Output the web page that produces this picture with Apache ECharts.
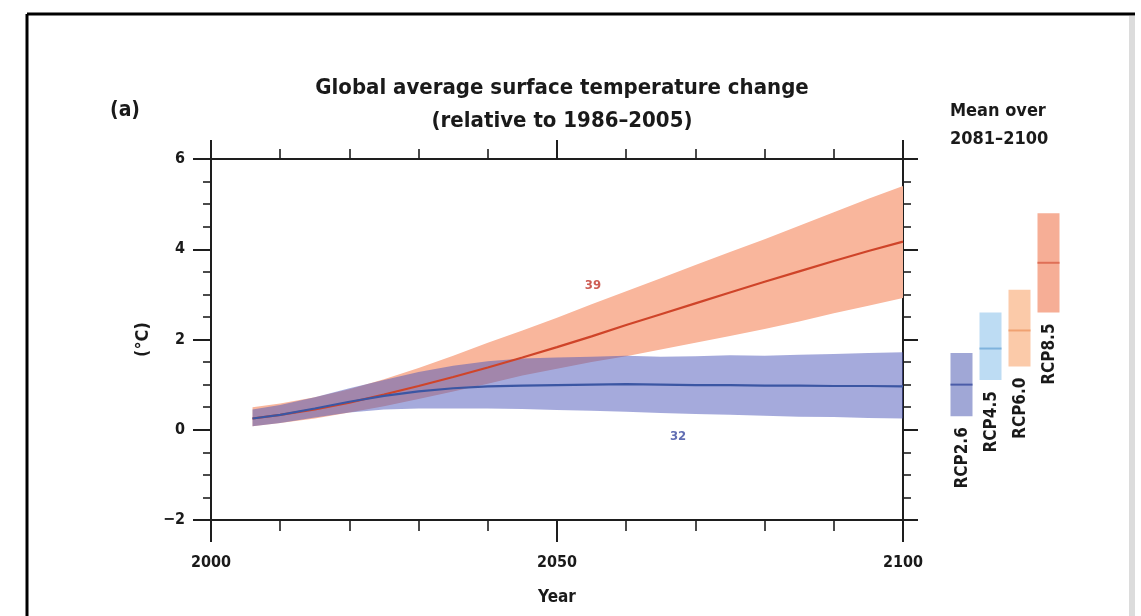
<!DOCTYPE html>
<html><head><meta charset="utf-8">
<script src="https://cdn.jsdelivr.net/npm/echarts@6/dist/echarts.min.js"></script>
<style>html,body{margin:0;padding:0;background:#fff}#c{width:1141px;height:616px}</style>
</head><body><div id="c"></div>
<script>
// ---- data ----
const years      = [2006,2010,2015,2020,2025,2030,2035,2040,2045,2050,2055,2060,2065,2070,2075,2080,2085,2090,2095,2100];
const rcp85Mean  = [0.25,0.33,0.45,0.60,0.78,0.97,1.17,1.38,1.60,1.83,2.07,2.32,2.56,2.80,3.04,3.28,3.51,3.74,3.96,4.17];
const rcp85Upper = [0.50,0.58,0.72,0.90,1.12,1.37,1.64,1.93,2.20,2.48,2.78,3.07,3.36,3.65,3.94,4.22,4.52,4.82,5.12,5.40];
const rcp85Lower = [0.08,0.15,0.25,0.38,0.52,0.68,0.85,1.02,1.20,1.35,1.50,1.63,1.78,1.93,2.08,2.23,2.40,2.58,2.75,2.92];
const rcp26Mean  = [0.25,0.33,0.47,0.62,0.75,0.85,0.92,0.96,0.98,0.99,1.00,1.01,1.00,0.99,0.99,0.98,0.98,0.97,0.97,0.96];
const rcp26Upper = [0.45,0.55,0.72,0.92,1.10,1.28,1.42,1.52,1.58,1.60,1.62,1.64,1.62,1.63,1.65,1.64,1.66,1.68,1.70,1.72];
const rcp26Lower = [0.08,0.15,0.27,0.38,0.45,0.47,0.47,0.47,0.46,0.44,0.42,0.40,0.37,0.35,0.33,0.31,0.29,0.28,0.26,0.25];

const barNames = ['RCP2.6','RCP4.5','RCP6.0','RCP8.5'];
const barLow   = [0.3,1.1,1.4,2.6];
const barMean  = [1.0,1.8,2.2,3.7];
const barHigh  = [1.7,2.6,3.1,4.8];

const countLabels = ['39','32'];
const countYears  = [2055.2,2067.5];
const countValues = [3.19,-0.16];

const xMin = 2000, xMax = 2100, xStep = 50;
const yMin = -2, yMax = 6, yStep = 2;

// ---- styles ----
const FONT = '"DejaVu Sans Condensed","Liberation Sans Narrow","DejaVu Sans",sans-serif';
const AX = '#1e1e1e';
const TXT = '#1a1a1a';
const barFill = ['#a0a7d6','#bddcf3','#fbcaa9','#f6ae96'];
const barLine = ['#4b5ca8','#7fb3dd','#f0a272','#df6f57'];
const countColors = ['#c0352a','#3a4aa0'];

function band(upper, lower, color, z) {
  return {
    type: 'custom', xAxisIndex: 0, yAxisIndex: 0, z: z, silent: true,
    data: [[2050, 2]],
    renderItem: function (params, api) {
      const pts = [];
      for (let i = 0; i < years.length; i++) pts.push(api.coord([years[i], upper[i]]));
      for (let i = years.length - 1; i >= 0; i--) pts.push(api.coord([years[i], lower[i]]));
      return { type: 'polygon', shape: { points: pts }, style: { fill: color } };
    }
  };
}
function meanLine(vals, color, z) {
  return {
    type: 'line', xAxisIndex: 0, yAxisIndex: 0, z: z, silent: true,
    data: years.map((y, i) => [y, vals[i]]),
    symbol: 'none', lineStyle: { color: color, width: 2.2 }
  };
}
function xAx(pos, tickLen, minorLen, labels) {
  return {
    type: 'value', gridIndex: 0, position: pos, min: xMin, max: xMax, interval: xStep,
    axisLine: { show: true, onZero: false, lineStyle: { color: AX, width: 2 } },
    axisTick: { show: true, length: tickLen, lineStyle: { color: AX, width: 2 } },
    minorTick: { show: true, splitNumber: 5, length: minorLen, lineStyle: { color: AX, width: 1.6 } },
    splitLine: { show: false }, minorSplitLine: { show: false },
    axisLabel: { show: labels, margin: 35, fontSize: 16, fontWeight: 'bold', color: TXT, fontFamily: FONT,
      formatter: v => String(v) },
    name: labels ? 'Year' : '', nameLocation: 'middle', nameGap: 69,
    nameTextStyle: { fontSize: 17, fontWeight: 'bold', color: TXT, fontFamily: FONT }
  };
}
function yAx(pos, tickLen, minorLen, labels) {
  return {
    type: 'value', gridIndex: 0, position: pos, min: yMin, max: yMax, interval: yStep,
    axisLine: { show: true, onZero: false, lineStyle: { color: AX, width: 2 } },
    axisTick: { show: true, length: tickLen, lineStyle: { color: AX, width: 2 } },
    minorTick: { show: true, splitNumber: 4, length: minorLen, lineStyle: { color: AX, width: 1.6 } },
    splitLine: { show: false }, minorSplitLine: { show: false },
    axisLabel: { show: labels, margin: 26, fontSize: 16, fontWeight: 'bold', color: TXT, fontFamily: FONT,
      formatter: v => (v < 0 ? '\u2212' + (-v) : String(v)) },
    name: labels ? '(\u00b0C)' : '', nameLocation: 'middle', nameGap: 54, nameRotate: 90,
    nameTextStyle: { fontSize: 18, fontWeight: 'bold', color: TXT, fontFamily: FONT }
  };
}

const option = {
  backgroundColor: '#fff',
  animation: false,
  title: {
    text: 'Global average surface temperature change\n(relative to 1986\u20132005)',
    left: 557, top: 67, textAlign: 'center',
    textStyle: { fontSize: 22, fontWeight: 'bold', color: TXT, fontFamily: FONT, lineHeight: 33 }
  },
  grid: [
    { left: 211, top: 159, width: 692, height: 361 },
    { left: 947, top: 159, width: 116, height: 361 }
  ],
  xAxis: [
    xAx('bottom', 22, 11, true),
    xAx('top', 19, 10, false),
    { type: 'category', gridIndex: 1, data: barNames, show: false }
  ],
  yAxis: [
    yAx('left', 18, 8, true),
    yAx('right', 15, 8, false),
    { type: 'value', gridIndex: 1, min: yMin, max: yMax, show: false }
  ],
  graphic: [
    { type: 'line', shape: { x1: 27, y1: 14, x2: 1135, y2: 14 }, style: { stroke: '#000', lineWidth: 3 } },
    { type: 'line', shape: { x1: 27, y1: 14, x2: 27, y2: 616 }, style: { stroke: '#000', lineWidth: 3 } },
    { type: 'rect', shape: { x: 1129, y: 16, width: 6, height: 600 }, style: { fill: '#dcdcdc' } },
    { type: 'text', x: 125, y: 111, style: { text: '(a)', fontSize: 21, fontWeight: 'bold', fill: TXT, fontFamily: FONT, align: 'center', verticalAlign: 'middle' } },
    { type: 'text', x: 950, y: 111, style: { text: 'Mean over', fontSize: 18, fontWeight: 'bold', fill: TXT, fontFamily: FONT, align: 'left', verticalAlign: 'middle' } },
    { type: 'text', x: 950, y: 139, style: { text: '2081\u20132100', fontSize: 18, fontWeight: 'bold', fill: TXT, fontFamily: FONT, align: 'left', verticalAlign: 'middle' } }
  ],
  series: [
    band(rcp85Upper, rcp85Lower, '#f9b69c', 1),
    band(rcp26Upper, rcp26Lower, 'rgba(76,86,185,0.5)', 2),
    meanLine(rcp85Mean, '#cf4429', 3),
    meanLine(rcp26Mean, '#3b56a3', 4),
    {
      type: 'scatter', xAxisIndex: 0, yAxisIndex: 0, symbolSize: 0, silent: true, z: 5,
      data: countLabels.map((t, i) => ({ value: [countYears[i], countValues[i]], name: t, label: { color: countColors[i] } })),
      label: { show: true, position: 'inside', formatter: p => p.name, fontSize: 13, fontWeight: 'bold', fontFamily: FONT }
    },
    {
      type: 'custom', xAxisIndex: 2, yAxisIndex: 2, silent: true, z: 5,
      data: barNames.map((n, i) => [i, barLow[i], barMean[i], barHigh[i]]),
      encode: { x: 0, y: [1, 2, 3] },
      renderItem: function (params, api) {
        const i = api.value(0);
        const lo = api.coord([i, api.value(1)]);
        const mi = api.coord([i, api.value(2)]);
        const hi = api.coord([i, api.value(3)]);
        const w = 22;
        return {
          type: 'group',
          children: [
            { type: 'rect', shape: { x: lo[0] - w / 2, y: hi[1], width: w, height: lo[1] - hi[1] }, style: { fill: barFill[i] } },
            { type: 'line', shape: { x1: lo[0] - w / 2, y1: mi[1], x2: lo[0] + w / 2, y2: mi[1] }, style: { stroke: barLine[i], lineWidth: 2 } },
            { type: 'text', x: lo[0] + 1, y: lo[1] + 11, rotation: Math.PI / 2,
              style: { text: barNames[i], fontSize: 17, fontWeight: 'bold', fill: TXT, fontFamily: FONT, align: 'right', verticalAlign: 'middle' } }
          ]
        };
      }
    }
  ]
};

echarts.init(document.getElementById('c')).setOption(option);
</script>
</body></html>
